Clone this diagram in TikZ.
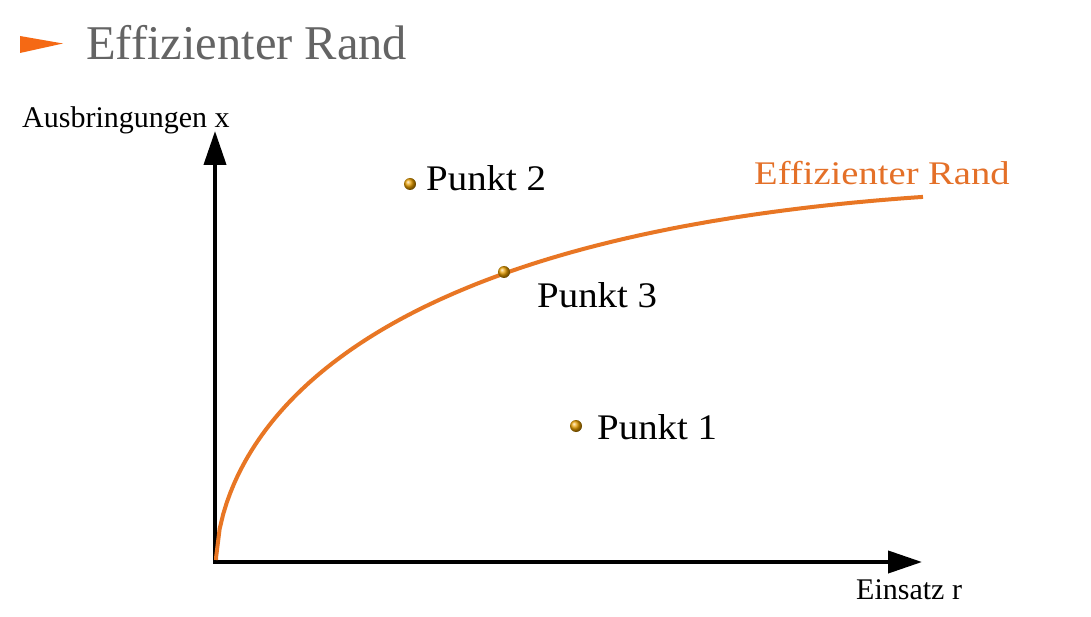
\documentclass[tikz,border=0pt]{standalone}
\usepackage{fontspec}
\setmainfont{Liberation Serif}
\newfontfamily\widefont[FakeStretch=1.08]{Liberation Serif}
\newfontfamily\widerfont[FakeStretch=1.17]{Liberation Serif}
\usetikzlibrary{arrows.meta}
\definecolor{titlegray}{RGB}{100,100,100}
\definecolor{titleorange}{RGB}{245,105,20}
\definecolor{curveorange}{RGB}{232,118,36}
\definecolor{labelorange}{RGB}{228,112,40}
\definecolor{ballcol}{RGB}{235,160,0}
\begin{document}
\begin{tikzpicture}[x=1pt,y=-1pt,
  axis/.style={line width=4pt,-{Triangle[length=34pt,width=22pt]}},
  ballnode/.style={circle,inner sep=0pt,minimum size=12pt,shading=ball,ball color=ballcol},
  punkt/.style={anchor=base west,inner sep=0pt,font=\widefont\fontsize{36}{40}\selectfont},
  axlabel/.style={anchor=base west,inner sep=0pt,font=\fontsize{30}{34}\selectfont}]
\useasboundingbox (0,0) rectangle (1091,617);
\fill[white] (0,0) rectangle (1091,617);
% title
\fill[titleorange] (20,36) -- (63,43.5) -- (20,53) -- cycle;
\node[anchor=base west,inner sep=0pt,text=titlegray,font=\fontsize{48.5}{52}\selectfont] (title) at (86,60) {Effizienter Rand};
% axes
\coordinate (O) at (215,562);
\coordinate (ytip) at (215,131);
\coordinate (xtip) at (922,562);
\draw[axis] ([yshift=2pt]O) -- (ytip);
\draw[axis] ([xshift=-2pt]O) -- (xtip);
\node[axlabel] (ylab) at (22,128) {Ausbringungen x};
\node[axlabel] (xlab) at (856,599) {Einsatz r};
% curve
\draw[curveorange,line width=4pt,line join=round] (216,560) -- plot[domain=0.05:707,samples=200] ({216+\x},{560-(15.35*(\x)^0.6-0.599*\x)});
\node[anchor=base west,inner sep=0pt,text=labelorange,font=\widerfont\fontsize{33}{36}\selectfont] (rand) at (754,185) {Effizienter Rand};
% points
\node[ballnode] (b2) at (410,184) {};
\node[ballnode] (b3) at (504,272) {};
\node[ballnode] (b1) at (576,426) {};
\node[punkt] (l2) at (426,191) {Punkt 2};
\node[punkt] (l3) at (537,308) {Punkt 3};
\node[punkt] (l1) at (597,439) {Punkt 1};
\end{tikzpicture}
\end{document}
